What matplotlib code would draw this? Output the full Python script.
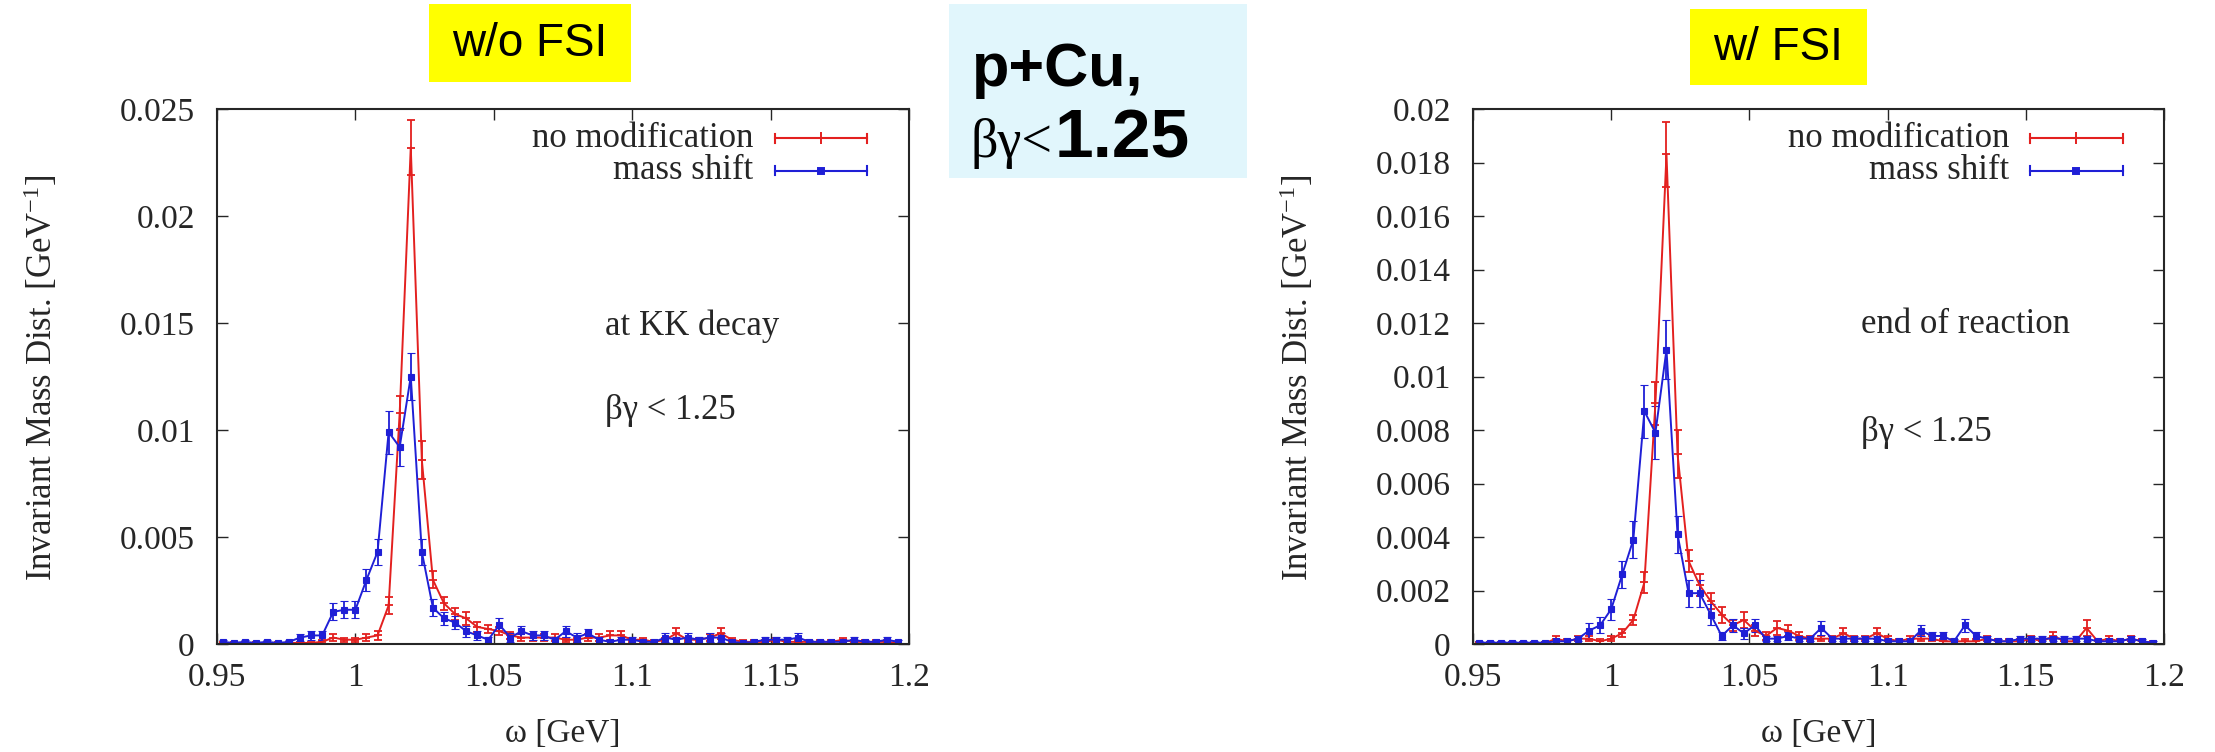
import numpy as np
import matplotlib
matplotlib.use('Agg')
import matplotlib.pyplot as plt
from matplotlib.patches import Rectangle

# bin centres of the invariant mass histogram [GeV]
omega = [0.952 + 0.004 * k for k in range(62)]

# w/o FSI, at KK decay
nomod_kk = [0.00005, 0.00005, 0.00005, 0.00005, 0.00005, 0.00005, 0.00005, 0.00005, 0.00005, 0.0001,
            0.0003, 0.0002, 0.0002, 0.0003, 0.0004, 0.0018, 0.0108, 0.0232, 0.0086, 0.0030,
            0.0019, 0.0014, 0.0012, 0.0008, 0.0007, 0.0006, 0.0004, 0.0003, 0.0003, 0.0003,
            0.0003, 0.0002, 0.0002, 0.0003, 0.0003, 0.0004, 0.0004, 0.0002, 0.0002, 0.0001,
            0.0002, 0.0005, 0.0002, 0.0002, 0.0003, 0.0005, 0.0002, 0.0001, 0.0001, 0.0001,
            0.0002, 0.0001, 0.0001, 0.0001, 0.0001, 0.0001, 0.0002, 0.0001, 0.0001, 0.0001,
            0.0001, 0.00005]
nomod_kk_err = [0.00005, 0.00005, 0.00005, 0.00005, 0.00005, 0.00005, 0.00005, 0.00005, 0.00005, 0.0001,
                0.00015, 0.0001, 0.0001, 0.00015, 0.0002, 0.0004, 0.0008, 0.0013, 0.0009, 0.0004,
                0.0003, 0.0003, 0.0003, 0.00025, 0.0002, 0.0002, 0.00015, 0.00015, 0.00015, 0.00015,
                0.00015, 0.0001, 0.0001, 0.00015, 0.00015, 0.0002, 0.0002, 0.0001, 0.0001, 0.0001,
                0.0001, 0.00025, 0.0001, 0.0001, 0.00015, 0.00025, 0.0001, 0.0001, 0.0001, 0.0001,
                0.0001, 0.0001, 0.0001, 0.0001, 0.0001, 0.0001, 0.0001, 0.0001, 0.0001, 0.0001,
                0.0001, 0.00005]
shift_kk = [0.0001, 0.00005, 0.0001, 0.00005, 0.0001, 0.00005, 0.0001, 0.0003, 0.0004, 0.0004,
            0.0015, 0.0016, 0.0016, 0.0030, 0.0043, 0.0099, 0.0092, 0.0125, 0.0043, 0.0017,
            0.0012, 0.0010, 0.0006, 0.0004, 0.0002, 0.0009, 0.0003, 0.0006, 0.0004, 0.0004,
            0.0002, 0.0006, 0.0003, 0.0005, 0.0002, 0.0001, 0.0002, 0.0002, 0.0001, 0.0001,
            0.0003, 0.0002, 0.0003, 0.0002, 0.0003, 0.0003, 0.0001, 0.00005, 0.0001, 0.0002,
            0.0002, 0.0002, 0.0003, 0.0001, 0.0001, 0.0001, 0.0001, 0.0002, 0.0001, 0.0001,
            0.0002, 0.0001]
shift_kk_err = [0.0001, 0.00005, 0.0001, 0.00005, 0.0001, 0.00005, 0.0001, 0.00015, 0.0002, 0.0002,
                0.0004, 0.0004, 0.0004, 0.0005, 0.0006, 0.0010, 0.0009, 0.0011, 0.0006, 0.0004,
                0.0003, 0.0003, 0.00025, 0.0002, 0.00015, 0.0003, 0.0002, 0.00025, 0.0002, 0.0002,
                0.00015, 0.00025, 0.0002, 0.0002, 0.00015, 0.0001, 0.00015, 0.00015, 0.0001, 0.0001,
                0.0002, 0.00015, 0.0002, 0.00015, 0.0002, 0.0002, 0.0001, 0.0001, 0.0001, 0.00015,
                0.00015, 0.00015, 0.0002, 0.0001, 0.0001, 0.0001, 0.0001, 0.00015, 0.0001, 0.0001,
                0.00015, 0.0001]

# w/ FSI, end of reaction
nomod_end = [0.00003, 0.00003, 0.00003, 0.00003, 0.00003, 0.00003, 0.00003, 0.0002, 0.0001, 0.0002,
             0.0002, 0.0001, 0.0002, 0.0004, 0.0009, 0.0023, 0.0090, 0.0183, 0.0071, 0.0031,
             0.0022, 0.0016, 0.0011, 0.0007, 0.0009, 0.0005, 0.0003, 0.0006, 0.0005, 0.0003,
             0.0002, 0.0002, 0.0002, 0.0004, 0.0002, 0.0002, 0.0004, 0.0002, 0.0001, 0.0002,
             0.0002, 0.0002, 0.0001, 0.0001, 0.0001, 0.0001, 0.0002, 0.0001, 0.0001, 0.0001,
             0.0002, 0.0001, 0.0003, 0.0001, 0.0001, 0.0006, 0.0001, 0.0002, 0.0001, 0.0002,
             0.0001, 0.00005]
nomod_end_err = [0.00003, 0.00003, 0.00003, 0.00003, 0.00003, 0.00003, 0.00003, 0.0001, 0.0001, 0.0001,
                 0.0001, 0.0001, 0.0001, 0.00015, 0.0002, 0.0004, 0.0008, 0.0012, 0.0009, 0.0004,
                 0.0004, 0.0003, 0.0003, 0.0002, 0.0003, 0.0002, 0.00015, 0.00025, 0.0002, 0.00015,
                 0.0001, 0.0001, 0.0001, 0.0002, 0.0001, 0.0001, 0.0002, 0.0001, 0.0001, 0.0001,
                 0.0001, 0.0001, 0.0001, 0.0001, 0.0001, 0.0001, 0.0001, 0.0001, 0.0001, 0.0001,
                 0.0001, 0.0001, 0.00015, 0.0001, 0.0001, 0.0003, 0.0001, 0.0001, 0.0001, 0.0001,
                 0.0001, 0.00005]
shift_end = [0.00005, 0.00005, 0.00005, 0.00005, 0.00005, 0.00005, 0.00005, 0.0001, 0.0001, 0.0002,
             0.0005, 0.0007, 0.0013, 0.0026, 0.0039, 0.0087, 0.0079, 0.0110, 0.0041, 0.0019,
             0.0019, 0.0011, 0.0003, 0.0007, 0.0004, 0.0007, 0.0002, 0.0002, 0.0003, 0.0002,
             0.0002, 0.0006, 0.0002, 0.0002, 0.0002, 0.0002, 0.0002, 0.0001, 0.0001, 0.0001,
             0.0005, 0.0003, 0.0003, 0.0001, 0.0007, 0.0003, 0.0002, 0.0001, 0.0001, 0.0002,
             0.0002, 0.0002, 0.0002, 0.0002, 0.0002, 0.0002, 0.0001, 0.0001, 0.0001, 0.0002,
             0.0001, 0.00005]
shift_end_err = [0.00005, 0.00005, 0.00005, 0.00005, 0.00005, 0.00005, 0.00005, 0.0001, 0.0001, 0.0001,
                 0.0003, 0.0003, 0.0004, 0.0005, 0.0007, 0.0010, 0.0010, 0.0011, 0.0007, 0.0005,
                 0.0005, 0.0004, 0.00015, 0.00025, 0.0002, 0.00025, 0.0001, 0.0001, 0.00015, 0.0001,
                 0.0001, 0.00025, 0.0001, 0.0001, 0.0001, 0.0001, 0.0001, 0.0001, 0.0001, 0.0001,
                 0.0002, 0.00015, 0.00015, 0.0001, 0.00025, 0.00015, 0.0001, 0.0001, 0.0001, 0.0001,
                 0.0001, 0.0001, 0.0001, 0.0001, 0.0001, 0.0001, 0.0001, 0.0001, 0.0001, 0.0001,
                 0.0001, 0.00005]

x_ticks = [0.95, 1.0, 1.05, 1.1, 1.15, 1.2]
x_ticklabels = ['0.95', '1', '1.05', '1.1', '1.15', '1.2']
y_ticks_kk = [0, 0.005, 0.01, 0.015, 0.02, 0.025]
y_ticklabels_kk = ['0', '0.005', '0.01', '0.015', '0.02', '0.025']
y_ticks_end = [0, 0.002, 0.004, 0.006, 0.008, 0.01, 0.012, 0.014, 0.016, 0.018, 0.02]
y_ticklabels_end = ['0', '0.002', '0.004', '0.006', '0.008', '0.01', '0.012',
                    '0.014', '0.016', '0.018', '0.02']

series_labels = ['no modification', 'mass shift']

W, H = 2215, 752
RED = '#e3201f'
BLUE = '#1f1fd6'
INK = '#262626'
SERIF = 'Liberation Serif'
SANS = 'Liberation Sans'

plt.rcParams['mathtext.fontset'] = 'custom'
plt.rcParams['mathtext.rm'] = SERIF
plt.rcParams['mathtext.it'] = SERIF + ':italic'


def px_box(x0, y0, x1, y1):
    # pixel box (top-left origin) -> figure fraction rect
    return [x0 / W, 1 - y1 / H, (x1 - x0) / W, (y1 - y0) / H]


def draw_legend(ax, x_text, x0, x1, ys):
    d = 0.008
    for label, y, color, mk, ms in zip(series_labels, ys, [RED, BLUE], ['|', 's'], [8, 5]):
        ax.text(x_text, y, label, transform=ax.transAxes, ha='right', va='center',
                fontsize=25, family=SERIF, color=INK)
        ax.plot([x0, x1], [y, y], transform=ax.transAxes, color=color, lw=1.5, clip_on=False)
        ax.plot([x0, x0], [y - d, y + d], transform=ax.transAxes, color=color, lw=1.5)
        ax.plot([x1, x1], [y - d, y + d], transform=ax.transAxes, color=color, lw=1.5)
        ax.plot([(x0 + x1) / 2], [y], transform=ax.transAxes, color=color,
                marker=mk, ms=ms, mew=1.4)


def draw_panel(ax, red, red_err, blue, blue_err, yticks, yticklabels, note, note_ys, legend_x):
    ax.errorbar(omega, red, yerr=red_err, color=RED, lw=1.4, elinewidth=1.3,
                capsize=3, capthick=1.3, marker='_', ms=6, mew=1.3)
    ax.errorbar(omega, blue, yerr=blue_err, color=BLUE, lw=1.4, elinewidth=1.3,
                capsize=3, capthick=1.3, marker='s', ms=4.5, mew=0.8)

    ax.set_xlim(0.95, 1.2)
    ax.set_ylim(0, yticks[-1])
    ax.set_xticks(x_ticks)
    ax.set_xticklabels(x_ticklabels)
    ax.set_yticks(yticks)
    ax.set_yticklabels(yticklabels)
    ax.tick_params(direction='in', length=8, width=1.0, color=INK, top=True, right=True,
                   labelsize=24, labelcolor=INK)
    ax.tick_params(axis='x', pad=13)
    ax.tick_params(axis='y', pad=16)
    for lbl in ax.get_xticklabels() + ax.get_yticklabels():
        lbl.set_family(SERIF)
    for sp in ax.spines.values():
        sp.set_color(INK)
        sp.set_linewidth(1.5)

    ax.text(-0.254, 0.498, 'Invariant Mass Dist. [GeV$^{-1}$]', transform=ax.transAxes,
            rotation=90, ha='center', va='center', fontsize=25, family=SERIF, color=INK)
    ax.text(0.5, -0.168, '\u03c9 [GeV]', transform=ax.transAxes, ha='center', va='center',
            fontsize=24, family=SERIF, color=INK)

    ax.text(0.561, note_ys[0], note, transform=ax.transAxes, ha='left', va='center',
            fontsize=25, family=SERIF, color=INK)
    ax.text(0.561, note_ys[1], '\u03b2\u03b3 < 1.25', transform=ax.transAxes, ha='left',
            va='center', fontsize=25, family=SERIF, color=INK)

    draw_legend(ax, legend_x, 0.806, 0.94, [0.945, 0.885])


def main():
    fig = plt.figure(figsize=(W / 100, H / 100), dpi=100)

    ax_kk = fig.add_axes(px_box(217, 109, 909, 644))
    ax_end = fig.add_axes(px_box(1473, 109, 2164, 644))

    draw_panel(ax_kk, nomod_kk, nomod_kk_err, shift_kk, shift_kk_err,
               y_ticks_kk, y_ticklabels_kk, 'at KK decay', [0.594, 0.437], 0.775)
    draw_panel(ax_end, nomod_end, nomod_end_err, shift_end, shift_end_err,
               y_ticks_end, y_ticklabels_end, 'end of reaction', [0.598, 0.396], 0.776)

    # header boxes
    for (x0, y0, x1, y1), color in [((429, 4, 631, 82), '#ffff00'),
                                    ((1690, 9, 1867, 85), '#ffff00'),
                                    ((949, 4, 1247, 178), '#e1f6fc')]:
        r = px_box(x0, y0, x1, y1)
        fig.patches.append(Rectangle((r[0], r[1]), r[2], r[3], transform=fig.transFigure,
                                     facecolor=color, edgecolor='none', zorder=0))

    fig.text(530 / W, 1 - 44 / H, 'w/o FSI', ha='center', va='center',
             fontsize=33, family=SANS, color='black')
    fig.text(1778 / W, 1 - 48 / H, 'w/ FSI', ha='center', va='center',
             fontsize=33, family=SANS, color='black')

    fig.text(972 / W, 1 - 86 / H, 'p+Cu,', ha='left', va='baseline',
             fontsize=44, family=SANS, weight='bold', color='black')
    fig.text(970 / W, 1 - 157 / H, '\u03b2\u03b3<', ha='left', va='baseline',
             fontsize=39, family=SERIF, color='black')
    fig.text(1055 / W, 1 - 157 / H, '1.25', ha='left', va='baseline',
             fontsize=50, family=SANS, weight='bold', color='black')

    fig.savefig('out.png', dpi=100)
    plt.close(fig)


if __name__ == '__main__':
    main()
